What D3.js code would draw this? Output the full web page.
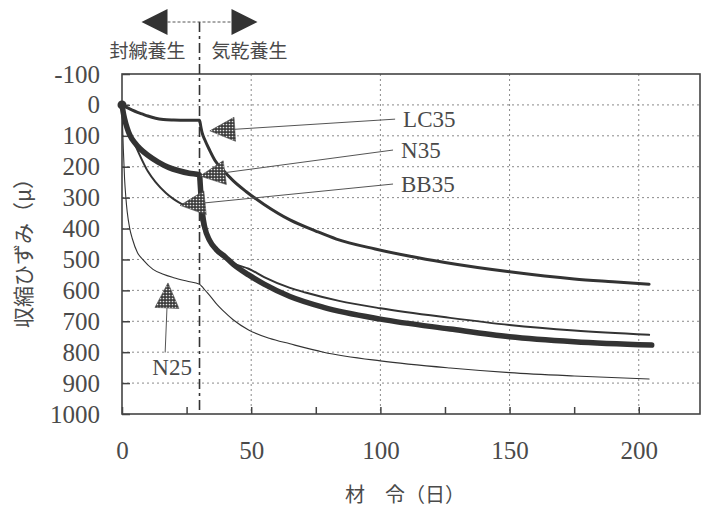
<!DOCTYPE html>
<html>
<head>
<meta charset="utf-8">
<script src="https://cdn.jsdelivr.net/npm/d3@7"></script>
<style>
  body { margin: 0; background: #fff; }
  text { fill: #4a4a4a; }
</style>
</head>
<body>
<div id="chart"></div>
<script>
// shrinkage strain (μ) vs age (days); sealed curing until day 30, then air drying
const lc35 = [[0,0],[2,9],[4,17],[6,24],[8,30],[10,36],[13,43],[16,47],[20,49],[25,50],[30,50],
  [30.5,70],[31,90],[32,112],[34,148],[36,180],[39,210],[43,245],[48,280],[55,322],[65,372],
  [75,408],[83,434],[98,466],[111,489],[125,510],[150,540],[175,563],[190,572],[204,580]];
const n35 = [[0,0],[0.5,25],[1,45],[2,75],[3,97],[5,123],[7,142],[10,163],[14,185],[18,202],
  [22,213],[26,221],[30,226],[30.3,260],[30.7,310],[31.2,355],[32,395],[34,440],[36.5,468],
  [40,492],[43,515],[49,550],[55,580],[65,620],[78,655],[100,693],[127,725],[150,750],[175,766],[205,777]];
const bb35 = [[0,0],[0.5,30],[1,50],[2,72],[3,90],[5,128],[7,165],[10,215],[13,250],[17,285],
  [20,305],[23,320],[27,333],[30,340],[30.5,365],[31,385],[32,410],[34,443],[37,478],[40,498],
  [44,516],[49,530],[55,557],[65,592],[71,607],[84,634],[100,658],[127,689],[150,712],[175,730],[204,744]];
const n25 = [[0,0],[0.2,60],[0.5,140],[1,240],[1.5,300],[2,345],[3,400],[4,433],[6,478],[8,500],
  [12,532],[16,548],[20,559],[25,570],[30,580],[31,588],[32,598],[34,617],[37,648],[39,665],
  [43,695],[49,728],[57,755],[65,773],[78,800],[100,828],[127,851],[150,866],[175,877],[204,887]];

const seriesNames = ["LC35", "N35", "BB35", "N25"];
const seriesData = [lc35, n35, bb35, n25];
const seriesWidths = [3, 5.5, 2, 1.1];

// pointer triangles: tip and label anchor in data units
const pointerTips = [[34, 84], [30.2, 230], [22.5, 325], [17.8, 576]];
const pointerAnchors = [[105.7, 46], [104.9, 146], [104.9, 256], [16.7, 801]];

const xTicks = [0, 25, 50, 75, 100, 125, 150, 175, 200];
const xLabels = [0, 50, 100, 150, 200];
const yTicks = [-100, 0, 100, 200, 300, 400, 500, 600, 700, 800, 900, 1000];
const dryingStart = 30;
const curingLabels = ["封緘養生", "気乾養生"];
const xTitle = "材\u3000令（日）";
const yTitle = "収縮ひずみ（μ）";

const W = 702, H = 508;
const plot = { left: 122, right: 700, top: 74, bottom: 414 };
const serif = "'Liberation Serif', 'DejaVu Serif', serif";
const cjk = "'Noto Sans CJK JP', sans-serif";

const svg = d3.select("#chart").append("svg")
  .attr("width", W).attr("height", H);

const defs = svg.append("defs");
const pat = defs.append("pattern").attr("id", "dots")
  .attr("width", 3).attr("height", 3).attr("patternUnits", "userSpaceOnUse");
pat.append("rect").attr("width", 3).attr("height", 3).attr("fill", "#3c3c3c");
pat.append("circle").attr("cx", 1.5).attr("cy", 1.5).attr("r", 0.85).attr("fill", "#e8e8e8");

const x = d3.scaleLinear().domain([0, 223.7]).range([plot.left, plot.right]);
const y = d3.scaleLinear().domain([-100, 1000]).range([plot.top, plot.bottom]);

// grid
svg.append("g").selectAll("line")
  .data(yTicks.filter(d => d > -100 && d < 1000))
  .join("line")
  .attr("x1", plot.left).attr("x2", plot.right)
  .attr("y1", d => y(d)).attr("y2", d => y(d))
  .attr("stroke", "#8a8a8a").attr("stroke-width", 1).attr("stroke-dasharray", "2,3");
svg.append("g").selectAll("line")
  .data(xLabels.filter(d => d > 0))
  .join("line")
  .attr("x1", d => x(d)).attr("x2", d => x(d))
  .attr("y1", plot.top).attr("y2", plot.bottom)
  .attr("stroke", "#8a8a8a").attr("stroke-width", 1).attr("stroke-dasharray", "2,3");

// frame
svg.append("rect")
  .attr("x", plot.left).attr("y", plot.top)
  .attr("width", plot.right - plot.left).attr("height", plot.bottom - plot.top)
  .attr("fill", "none").attr("stroke", "#444").attr("stroke-width", 1.6);

// axes with inward ticks
const yAxis = d3.axisLeft(y).tickValues(yTicks).tickSize(-8).tickSizeOuter(0)
  .tickPadding(22).tickFormat(d => String(d));
const gy = svg.append("g").attr("transform", `translate(${plot.left},0)`).call(yAxis);
gy.select(".domain").remove();
gy.selectAll("line").attr("stroke", "#444").attr("stroke-width", 1.5);
gy.selectAll("text").style("font-family", serif).style("font-size", "25px")
  .attr("fill", "#4a4a4a");

const xAxis = d3.axisBottom(x).tickValues(xTicks).tickSize(-7).tickSizeOuter(0)
  .tickPadding(27).tickFormat(d => xLabels.includes(d) ? String(d) : "");
const gx = svg.append("g").attr("transform", `translate(0,${plot.bottom})`).call(xAxis);
gx.select(".domain").remove();
gx.selectAll("line").attr("stroke", "#444").attr("stroke-width", 1.5);
gx.selectAll("text").style("font-family", serif).style("font-size", "25px")
  .attr("fill", "#4a4a4a");

// curing switch line and arrows
const xs = x(dryingStart);
svg.append("line")
  .attr("x1", xs).attr("x2", xs).attr("y1", 22).attr("y2", plot.bottom)
  .attr("stroke", "#333").attr("stroke-width", 1.6).attr("stroke-dasharray", "10,4,3,4");
svg.append("line")
  .attr("x1", xs - 32).attr("x2", xs + 32).attr("y1", 22).attr("y2", 22)
  .attr("stroke", "#555").attr("stroke-width", 1).attr("stroke-dasharray", "3,2");
svg.append("path")
  .attr("d", `M${xs - 58},22 L${xs - 32},9 L${xs - 32},35 Z`).attr("fill", "#333");
svg.append("path")
  .attr("d", `M${xs + 58},22 L${xs + 32},9 L${xs + 32},35 Z`).attr("fill", "#333");
svg.selectAll(".curing").data(curingLabels).join("text")
  .attr("class", "curing")
  .attr("x", (d, i) => i === 0 ? xs - 14 : xs + 12)
  .attr("y", 58)
  .attr("text-anchor", (d, i) => i === 0 ? "end" : "start")
  .style("font-family", cjk).style("font-size", "19px")
  .text(d => d);

// curves
const line = d3.line().x(d => x(d[0])).y(d => y(d[1])).curve(d3.curveMonotoneX);
svg.append("g").selectAll("path")
  .data(seriesData)
  .join("path")
  .attr("d", line)
  .attr("fill", "none")
  .attr("stroke", "#333")
  .attr("stroke-width", (d, i) => seriesWidths[i])
  .attr("stroke-linejoin", "round").attr("stroke-linecap", "round");

svg.append("circle").attr("cx", x(0)).attr("cy", y(0)).attr("r", 4.5).attr("fill", "#333");

// pointers
const pointers = svg.append("g");
seriesNames.forEach((name, i) => {
  const tx = x(pointerTips[i][0]), ty = y(pointerTips[i][1]);
  const ax = x(pointerAnchors[i][0]), ay = y(pointerAnchors[i][1]);
  const len = Math.hypot(tx - ax, ty - ay);
  const ux = (tx - ax) / len, uy = (ty - ay) / len;
  const bx = tx - ux * 25, by = ty - uy * 25;
  pointers.append("line")
    .attr("x1", ax).attr("y1", ay).attr("x2", bx).attr("y2", by)
    .attr("stroke", "#555").attr("stroke-width", 1);
  pointers.append("path")
    .attr("d", `M${tx},${ty} L${bx - uy * 12},${by + ux * 12} L${bx + uy * 12},${by - ux * 12} Z`)
    .attr("fill", "url(#dots)").attr("stroke", "#444").attr("stroke-width", 0.6);
  const below = Math.abs(uy) > Math.abs(ux);
  pointers.append("text")
    .attr("x", below ? ax + 7 : ax + 8)
    .attr("y", below ? ay + 23 : ay + 8)
    .attr("text-anchor", below ? "middle" : "start")
    .style("font-family", serif).style("font-size", "23px")
    .text(name);
});

// axis titles
svg.append("text")
  .attr("x", 405).attr("y", 502)
  .attr("text-anchor", "middle")
  .style("font-family", cjk).style("font-size", "20px")
  .text(xTitle);
svg.append("text")
  .attr("transform", "translate(31,248) rotate(-90)")
  .attr("text-anchor", "middle")
  .style("font-family", cjk).style("font-size", "21px")
  .text(yTitle);
</script>
</body>
</html>
